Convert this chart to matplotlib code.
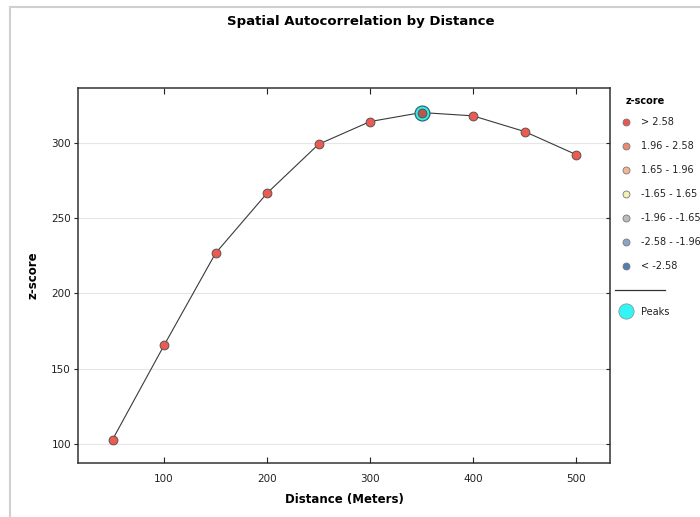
import matplotlib as mpl

mpl.use("Agg")

import matplotlib.pyplot as plt
from matplotlib.lines import Line2D

# data
distance = [50, 100, 150, 200, 250, 300, 350, 400, 450, 500]
zscore = [102.9, 165.5, 226.7, 266.6, 299.1, 314.2, 320.2, 318.0, 307.6, 292.3]
peak_distance = [350]
peak_zscore = [320.2]

legend_labels = ["> 2.58", "1.96 - 2.58", "1.65 - 1.96", "-1.65 - 1.65",
                 "-1.96 - -1.65", "-2.58 - -1.96", "< -2.58"]
legend_colors = ["#e8564d", "#ef8a72", "#f3b78f", "#f2f2b2",
                 "#b9bdbd", "#8ba6c3", "#4f7fb8"]

W, H = 700, 517
fig = plt.figure(figsize=(W / 100, H / 100), dpi=100)
ax = fig.add_axes([78 / W, 1 - 463 / H, 532 / W, 375 / H])

ax.plot(distance, zscore, color="#3a3a3a", lw=0.8, zorder=2)
ax.scatter(distance, zscore, s=40, c="#ef5a50", edgecolors="#555555",
           linewidths=0.7, zorder=3)
ax.scatter(peak_distance, peak_zscore, s=115, c="#33eeee", edgecolors="#2a6b6b",
           linewidths=0.9, zorder=4)
ax.scatter(peak_distance, peak_zscore, s=40, c="#b05a52", edgecolors="#555555",
           linewidths=0.7, zorder=5)

ax.set_xlim(16.5, 533)
ax.set_ylim(87.4, 336.5)
ax.set_xticks([100, 200, 300, 400, 500])
ax.set_yticks([100, 150, 200, 250, 300])
ax.yaxis.grid(True, color="#e6e6e6", lw=0.8)
ax.set_axisbelow(True)
ax.tick_params(axis="x", direction="in", top=True, length=4, labelsize=7.5,
               colors="#222222", pad=8)
ax.tick_params(axis="y", direction="out", length=3, labelsize=7.5,
               colors="#222222", pad=2)
ax.tick_params(axis="y", which="major", right=True)
for t in ax.yaxis.get_major_ticks():
    t.tick2line.set_marker(mpl.markers.TICKLEFT)
    t.tick2line.set_markersize(3)
for sp in ax.spines.values():
    sp.set_color("#333333")
    sp.set_linewidth(1.1)

# figure pixel helpers
def fx(x):
    return x / W

def fy(y):
    return 1 - y / H

fig.text(fx(344), fy(500), "Distance (Meters)", fontweight="bold", fontsize=8.5,
         ha="center", va="center")
fig.text(fx(33), fy(275), "z-score", fontweight="bold", fontsize=8.5,
         ha="center", va="center", rotation=90)
fig.text(fx(361), fy(22), "Spatial Autocorrelation by Distance",
         ha="center", va="center", fontweight="bold", fontsize=9.5)

# legend
fig.text(fx(626), fy(101), "z-score", fontweight="bold", fontsize=7, va="center")
for i, (lab, col) in enumerate(zip(legend_labels, legend_colors)):
    y = 122 + i * 24
    fig.add_artist(Line2D([fx(626)], [fy(y)], marker="o", markersize=5,
                          markerfacecolor=col, markeredgecolor="#777777",
                          markeredgewidth=0.6, transform=fig.transFigure))
    fig.text(fx(641), fy(y), lab, fontsize=7, va="center", color="#222222")
fig.add_artist(Line2D([fx(615), fx(665)], [fy(290), fy(290)], color="#333333",
                      lw=0.9, transform=fig.transFigure))
fig.add_artist(Line2D([fx(626)], [fy(311)], marker="o", markersize=11,
                      markerfacecolor="#33f5f5", markeredgecolor="#888888",
                      markeredgewidth=0.5, transform=fig.transFigure))
fig.text(fx(641), fy(312), "Peaks", fontsize=7, va="center", color="#222222")

# outer frame lines (top and left)
fig.add_artist(Line2D([fx(10), 1], [fy(7), fy(7)], color="#d0d0d0", lw=1.5,
                      transform=fig.transFigure))
fig.add_artist(Line2D([fx(10), fx(10)], [fy(7), 0], color="#d0d0d0", lw=1.5,
                      transform=fig.transFigure))

fig.savefig("out.png", dpi=100, facecolor="white")
